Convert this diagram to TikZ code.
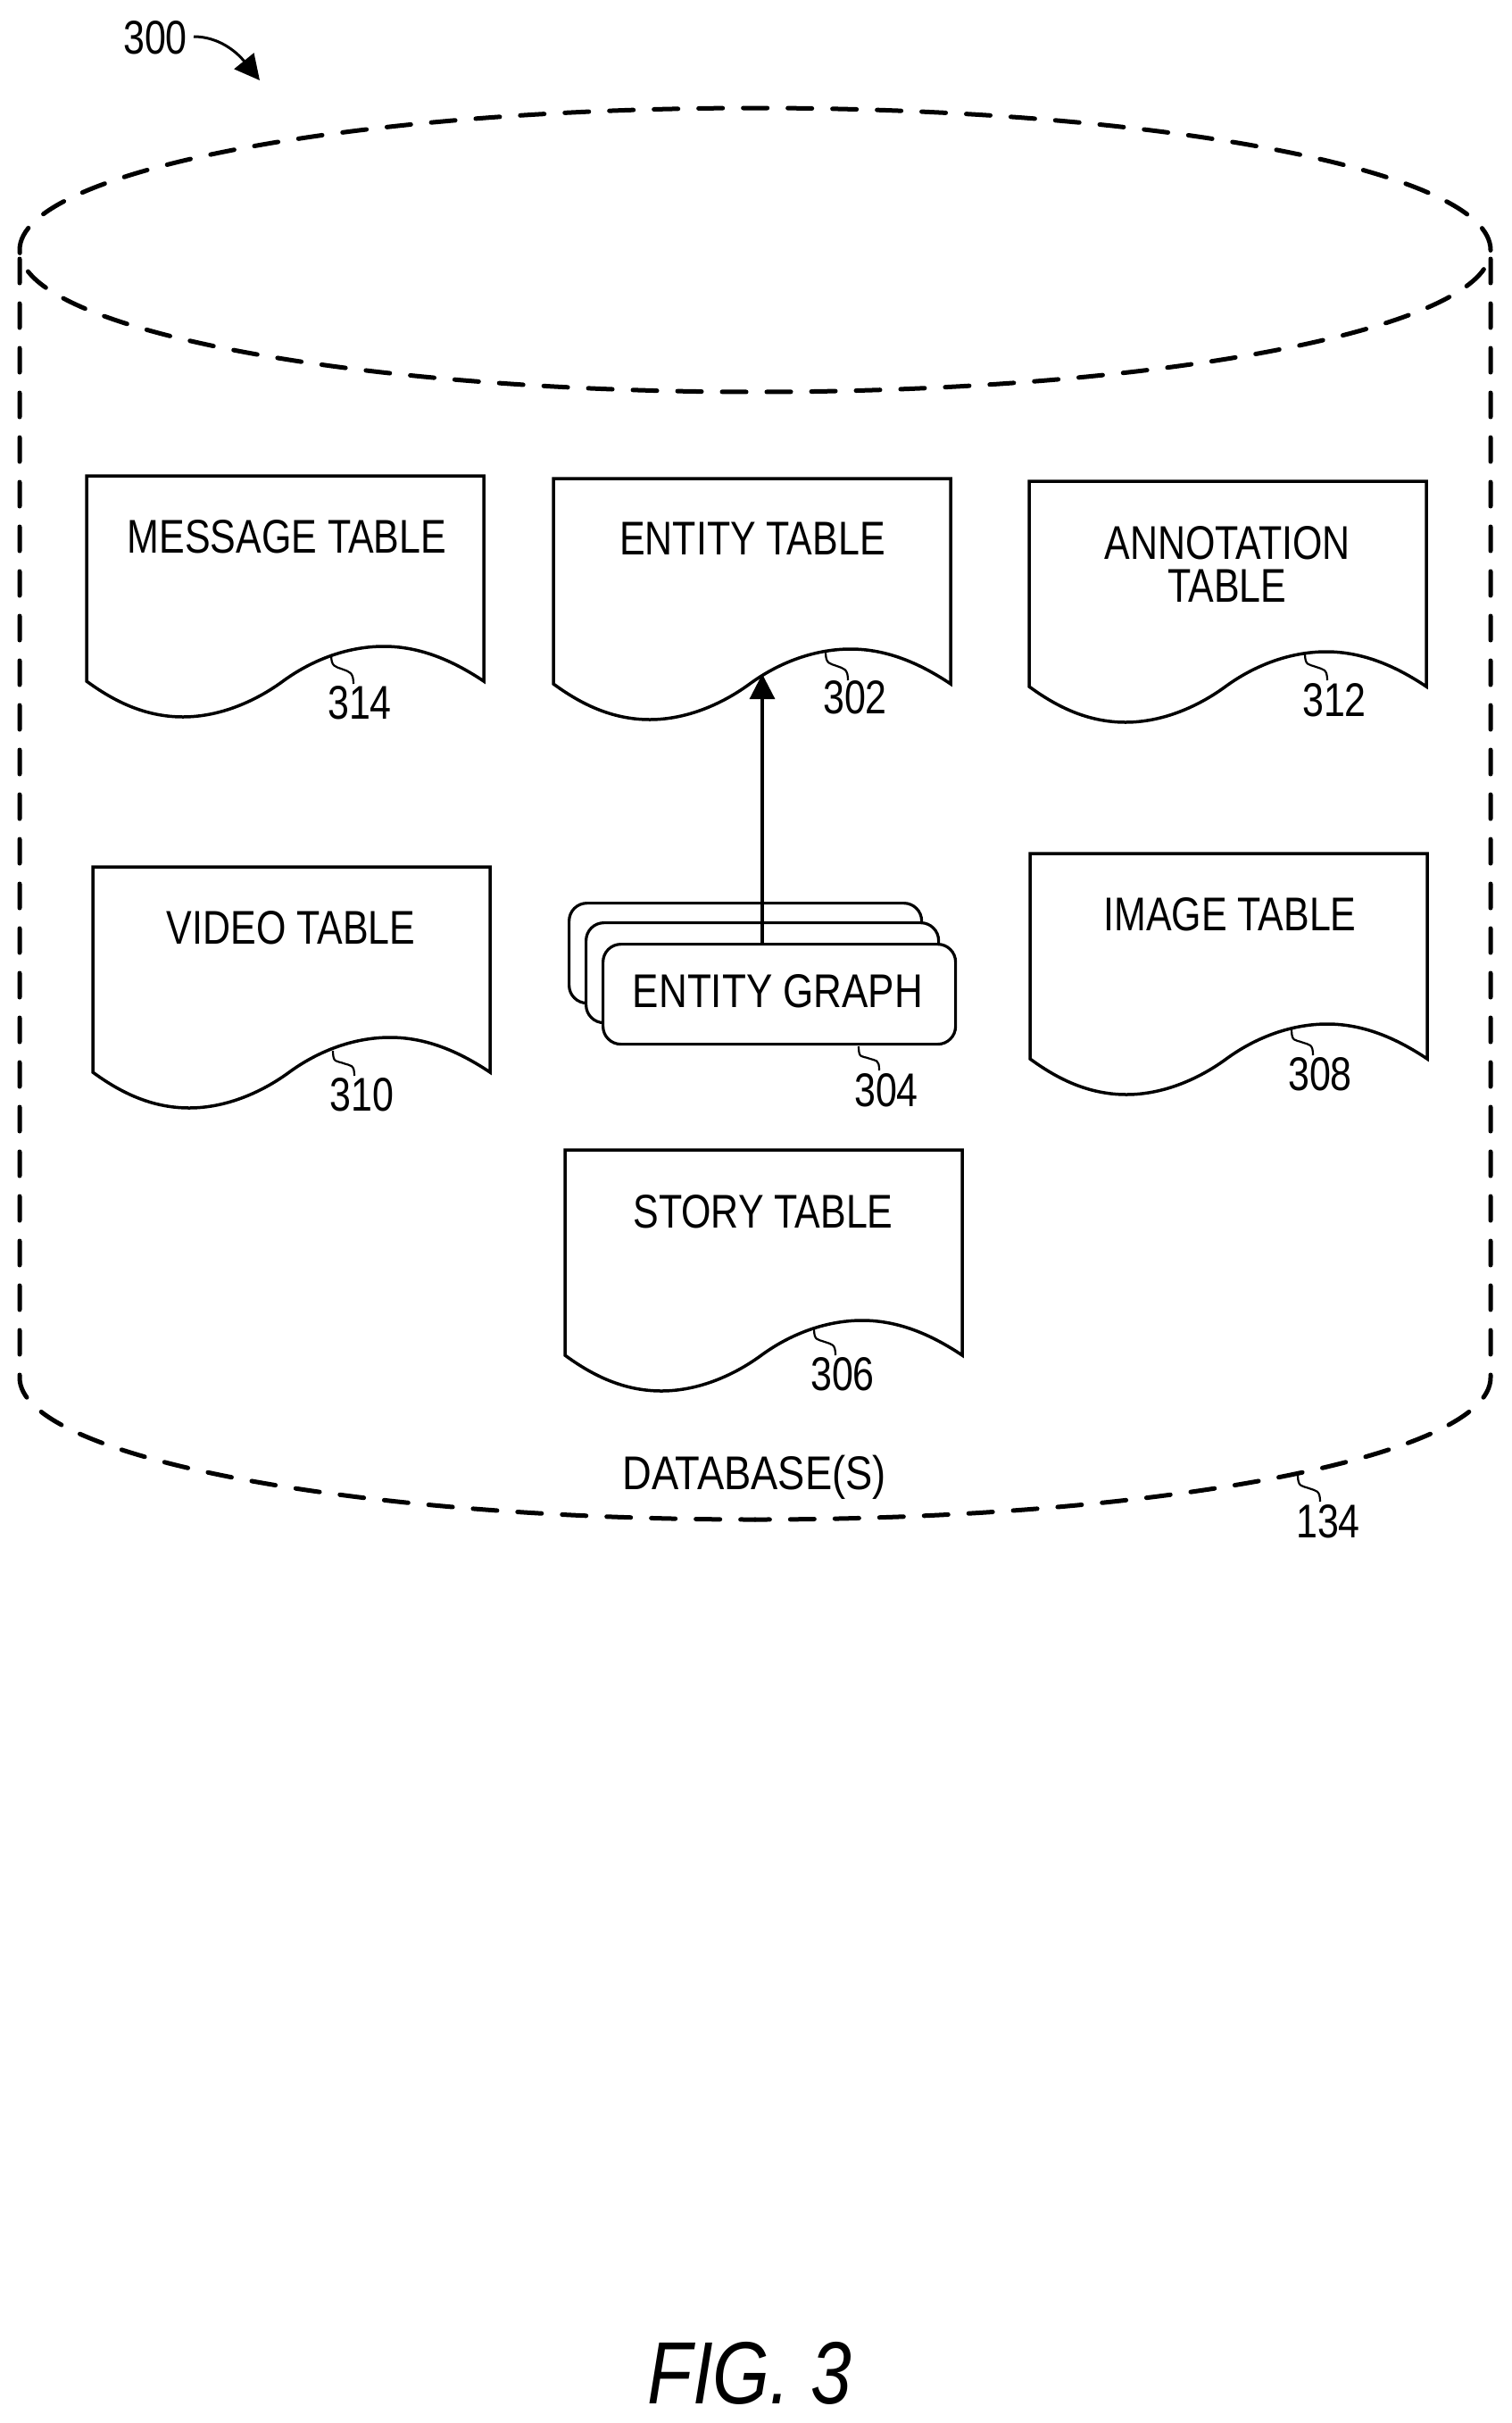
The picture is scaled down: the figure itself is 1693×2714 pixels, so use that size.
\documentclass[tikz,border=0pt]{standalone}
\usepackage{fontspec}
\usetikzlibrary{arrows.meta,calc}
\newfontfamily\lblfont[FakeStretch=0.81]{Liberation Sans}
\newfontfamily\graphfont[FakeStretch=0.83]{Liberation Sans}
\newfontfamily\dbfont[FakeStretch=0.855]{Liberation Sans}
\newfontfamily\figfont[FakeStretch=0.83]{Liberation Sans}
\tikzset{
  outline/.style={line width=2.5pt,dash pattern=on 13.5pt off 11.5pt,line cap=round},
  docline/.style={line width=1.75pt,line join=miter},
  leader/.style={line width=1.1pt},
  lbl/.style={anchor=base,inner sep=0pt,font=\lblfont\fontsize{26.5}{24}\selectfont,align=center},
  graphbox/.style={draw,line width=1.6pt,rounded corners=10pt,fill=white,anchor=north west,inner sep=0pt,minimum width=197.5pt,minimum height=56pt},
}
\newcommand\dbdoc[2]{%
  \begin{scope}[shift={(#1,#2)}]
    \draw[docline] (0,230) -- (0,0) -- (445,0) -- (445,230)
      .. controls (412,208) and (375,191) .. (333,191)
      .. controls (290,191) and (250,208) .. (220,230)
      .. controls (190,252) and (150,270) .. (108,270)
      .. controls (65,270) and (30,252) .. (0,230) -- cycle;
  \end{scope}}
\newcommand\squig[2]{%
  \draw[leader] (#1) .. controls +(0,14) and +(-8,-3) .. ($(#1)!.5!(#2)$)
    .. controls +(8,3) and +(0,-13) .. (#2);}
\begin{document}
\begin{tikzpicture}[x=0.5pt,y=-0.5pt]
\useasboundingbox (0,0) rectangle (1693,2714);
% cylinder
\draw[outline] (22,280) arc[start angle=180,end angle=540,x radius=824,y radius=159];
\draw[outline] (22,290) -- (22,1543) arc[start angle=180,end angle=90,x radius=824,y radius=159];
\draw[outline] (1670,290) -- (1670,1543) arc[start angle=0,end angle=90,x radius=824,y radius=159];
% reference arrow
\node[lbl] (n300) at (174,60) {300};
\coordinate (a300s) at (217,41);
\coordinate (a300e) at (291,90);
\draw[line width=1.5pt,-{Triangle[length=14pt,width=14pt]}] (a300s) .. controls (245,41) and (265,58) .. (a300e);
% tables
\dbdoc{97}{533}
\dbdoc{620}{536}
\dbdoc{1153}{539}
\dbdoc{104}{971}
\dbdoc{1154}{956}
\dbdoc{633}{1288}
\node[lbl] (message) at (321.5,619) {MESSAGE TABLE};
\node[lbl] (entity) at (843,621.5) {ENTITY TABLE};
\node[lbl] (annotation) at (1375,674) {ANNOTATION\\TABLE};
\node[lbl] (video) at (326,1057) {VIDEO TABLE};
\node[lbl] (image) at (1378,1042) {IMAGE TABLE};
\node[lbl] (story) at (855,1375) {STORY TABLE};
% entity graph
\node[graphbox] (gback) at (636,1010) {};
\node[graphbox] (gmid) at (655,1032) {};
\node[graphbox] (gfront) at (674,1056) {};
\node[lbl,font=\graphfont\fontsize{26.5}{24}\selectfont] (graph) at (871.5,1128) {ENTITY GRAPH};
\coordinate (wave) at (854,755);
\draw[line width=1.6pt,-{Triangle[length=14pt,width=14pt]}] (gfront.north -| wave) -- (wave);
% numerals
\node[lbl] (n314) at (403,805) {314};
\node[lbl] (n302) at (958,799) {302};
\node[lbl] (n312) at (1495,802) {312};
\node[lbl] (n310) at (405.5,1244) {310};
\node[lbl] (n304) at (993,1239) {304};
\node[lbl] (n308) at (1479,1221) {308};
\node[lbl] (n306) at (944,1557) {306};
\node[lbl,font=\dbfont\fontsize{26.5}{24}\selectfont] (db) at (845,1668) {DATABASE(S)};
\node[lbl] (n134) at (1488,1722) {134};
% leaders
\coordinate (s314) at (371,733); \coordinate (e314) at (396,766);
\coordinate (s302) at (925,730); \coordinate (e302) at (950,762);
\coordinate (s312) at (1462,732); \coordinate (e312) at (1487,762);
\coordinate (s310) at (373,1177); \coordinate (e310) at (397,1205);
\coordinate (s304) at (962,1172); \coordinate (e304) at (985,1199);
\coordinate (s308) at (1447,1153); \coordinate (e308) at (1471,1182);
\coordinate (s306) at (912,1488); \coordinate (e306) at (936,1518);
\coordinate (s134) at (1454,1652); \coordinate (e134) at (1479,1682);
\squig{s314}{e314}\squig{s302}{e302}\squig{s312}{e312}\squig{s310}{e310}
\squig{s304}{e304}\squig{s308}{e308}\squig{s306}{e306}\squig{s134}{e134}
% figure label
\node[anchor=base,inner sep=0pt,font=\figfont\itshape\fontsize{49.5}{56}\selectfont] (fig) at (840,2692) {FIG. 3};
\end{tikzpicture}
\end{document}
